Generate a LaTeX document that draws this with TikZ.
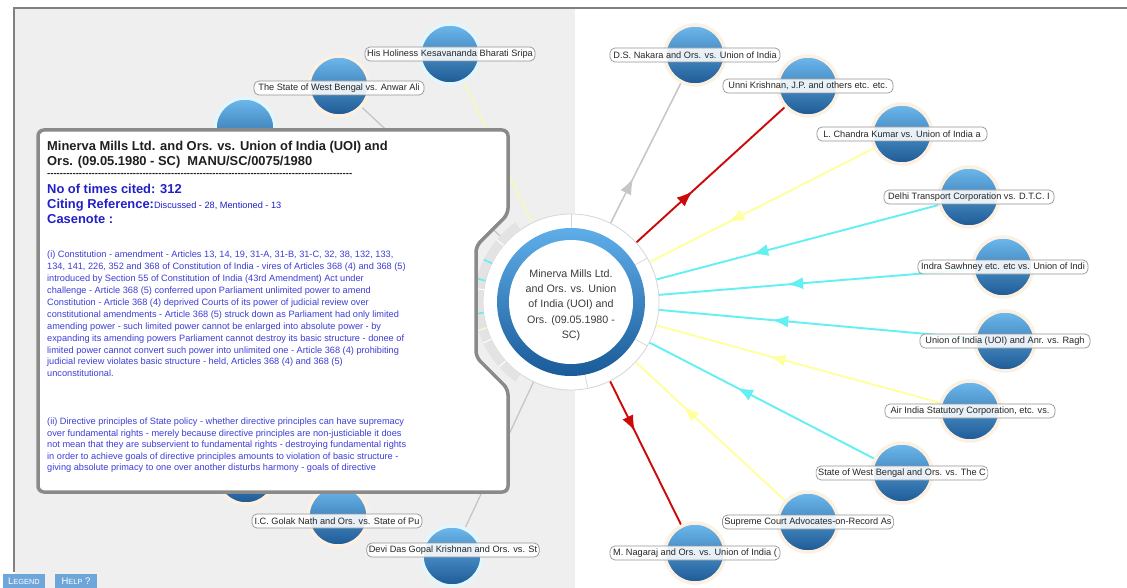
\documentclass[tikz,border=0pt]{standalone}
\usepackage{fontspec}
\setmainfont{Liberation Sans}
\usetikzlibrary{arrows.meta,decorations.markings,shadows,calc}
\pgfdeclarelayer{back}
\pgfdeclarelayer{lines}
\pgfsetlayers{back,lines,main}
\definecolor{bggray}{HTML}{EFEFEF}
\definecolor{framegray}{HTML}{808080}
\definecolor{popframe}{HTML}{8A8A8A}
\definecolor{sphtop}{HTML}{6DB9EE}
\definecolor{sphmid}{HTML}{3E8BCB}
\definecolor{sphbot}{HTML}{1D5994}
\definecolor{halo}{HTML}{FBF0E2}
\definecolor{halob}{HTML}{E2F6FB}
\definecolor{lblb}{HTML}{959595}
\definecolor{egray}{HTML}{C6C6C6}
\definecolor{ered}{HTML}{CC0A0A}
\definecolor{eyel}{HTML}{FFFF9E}
\definecolor{eyelpale}{HTML}{F7F7C4}
\definecolor{ecyan}{HTML}{62F0F2}
\definecolor{txtblue}{HTML}{3D3DD8}
\definecolor{hblue}{HTML}{2020C8}
\definecolor{titleblack}{HTML}{1F1F1F}
\definecolor{ctext}{HTML}{3C3C3C}
\definecolor{ringtop}{HTML}{5EAEEA}
\definecolor{ringbot}{HTML}{1A5A98}
\definecolor{divg}{HTML}{D6D6D6}
\definecolor{bandg}{HTML}{E3E3E3}
\definecolor{btnblue}{HTML}{6FA6DA}
\begin{document}
\begin{tikzpicture}[x=1pt,y=-1pt,
  sph/.style={circle, minimum size=60pt, inner sep=0pt, top color=sphtop, middle color=sphmid, bottom color=sphbot, draw=#1, line width=3.5pt},
  sph/.default=halo,
  lbl/.style={draw=lblb, line width=0.7pt, rounded corners=5pt, fill=white, fill opacity=0.88, text opacity=1, minimum width=170pt, minimum height=14pt, inner sep=2pt, font=\fontsize{9.2}{10}\selectfont, text=black!85},
  conn/.style={line width=1.9pt},
  outarr/.style={postaction={decorate}, decoration={markings, mark=at position #1 with {\arrow{Latex[length=16pt,width=12pt]}}}},
  inarr/.style={postaction={decorate}, decoration={markings, mark=at position #1 with {\arrowreversed{Latex[length=16pt,width=12pt]}}}},
  btn/.style={fill=btnblue, text=white, minimum width=42pt, minimum height=14pt, inner sep=0pt},
  ptext/.style={anchor=north west, inner sep=0pt, align=left}
]
\useasboundingbox (0,0) rectangle (1127,588);
\begin{pgfonlayer}{back}
\fill[white] (0,0) rectangle (1127,588);
\fill[bggray] (15,9) rectangle (575,588);
\draw[framegray, line width=1.6pt] (14,572) -- (14,8) -- (1127,8);
\end{pgfonlayer}

% center node
\node[circle, minimum size=176pt, inner sep=0pt, fill=white, draw=divg, line width=0.8pt] (c) at (571,302) {};

% spheres right
\node[sph] (n1) at (695,55) {};
\node[sph] (n2) at (808,86) {};
\node[sph] (n3) at (902,134) {};
\node[sph] (n4) at (969,197) {};
\node[sph] (n5) at (1003,267) {};
\node[sph] (n6) at (1005,341) {};
\node[sph] (n7) at (970,411) {};
\node[sph] (n8) at (902,473) {};
\node[sph] (n9) at (808,522) {};
\node[sph] (n10) at (695,553) {};
% spheres left
\node[sph=halob] (n11) at (450,54) {};
\node[sph] (n12) at (339,86) {};
\node[sph=halob] (n13) at (245,128) {};
\node[sph] (n14) at (246,474) {};
\node[sph] (n15) at (338,516) {};
\node[sph=halob] (n16) at (452,556) {};

% labels
\node[lbl] (l1) at (n1) {D.S. Nakara and Ors. vs. Union of India};
\node[lbl] (l2) at (n2) {Unni Krishnan, J.P. and others etc. etc.};
\node[lbl] (l3) at (n3) {L. Chandra Kumar vs. Union of India a};
\node[lbl] (l4) at (n4) {Delhi Transport Corporation vs. D.T.C. I};
\node[lbl] (l5) at (n5) {Indra Sawhney etc. etc vs. Union of Indi};
\node[lbl] (l6) at (n6) {Union of India (UOI) and Anr. vs. Ragh};
\node[lbl] (l7) at (n7) {Air India Statutory Corporation, etc. vs.};
\node[lbl] (l8) at (n8) {State of West Bengal and Ors. vs. The C};
\node[lbl] (l9) at (n9) {Supreme Court Advocates-on-Record As};
\node[lbl] (l10) at (n10) {M. Nagaraj and Ors. vs. Union of India (};
\node[lbl] (l11) at (n11) {His Holiness Kesavananda Bharati Sripa};
\node[lbl] (l12) at (339,88) {The State of West Bengal vs. Anwar Ali};
\node[lbl] (l15) at (337,521) {I.C. Golak Nath and Ors. vs. State of Pu};
\node[lbl] (l16) at (453,550) {Devi Das Gopal Krishnan and Ors. vs. St};

% connectors
\begin{pgfonlayer}{lines}
\draw[conn, egray, line width=1.5pt, outarr=0.32] (c) -- (n1);
\draw[conn, ered, outarr=0.38] (c) -- (n2);
\draw[conn, eyel, inarr=0.35] (c) -- (n3);
\draw[conn, ecyan, inarr=0.34] (c) -- (n4);
\draw[conn, ecyan, inarr=0.41] (c) -- (n5);
\draw[conn, ecyan, inarr=0.36] (c) -- (n6);
\draw[conn, eyel, inarr=0.40] (c) -- (n7);
\draw[conn, ecyan, inarr=0.39] (c) -- (n8);
\draw[conn, eyel, inarr=0.32] (c) -- (n9);
\draw[conn, ered, outarr=0.35] (c) -- (n10);
\draw[conn, eyelpale] (c) -- (n11);
\draw[conn, egray, line width=1.3pt] (c) -- (n12);
\draw[conn, egray, line width=1.3pt] (c) -- (n16);
\end{pgfonlayer}

% center ring
\shade[top color=ringtop, bottom color=ringbot] (c.center) circle[radius=74pt];
\fill[white] (c.center) circle[radius=62pt];
\foreach \a in {90,-79,30,-30}{
  \draw[divg, line width=0.7pt] ($(c.center)+(\a:74pt)$) -- ($(c.center)+(\a:88pt)$);
}
% band in the notch
\fill[bandg] ($(c.center)+(125:88pt)$) arc[start angle=125, end angle=235, radius=88pt] -- ($(c.center)+(235:97pt)$) arc[start angle=235, end angle=125, radius=97pt] -- cycle;
\foreach \a in {140,172,205,222}{
  \draw[white, line width=1pt] ($(c.center)+(\a:88pt)$) -- ($(c.center)+(\a:97pt)$);
}
\foreach \a in {154,166,187}{
  \draw[ecyan, line width=1.6pt] ($(c.center)+(\a:88pt)$) -- ($(c.center)+(\a:97pt)$);
}
\draw[eyelpale, line width=1.6pt] ($(c.center)+(197:88pt)$) -- ($(c.center)+(197:97pt)$);

\node[align=center, font=\fontsize{10.7}{15.3}\selectfont, text=ctext] (ct) at (571,305) {Minerva Mills Ltd.\\and Ors. vs. Union\\of India (UOI) and\\Ors. (09.05.1980 -\\SC)};

% popup
\draw[popframe, line width=3.5pt, fill=white, rounded corners=6pt, drop shadow={shadow xshift=1.5pt, shadow yshift=-1.5pt, opacity=0.25}]
  (38,130) -- (508,130) -- (508,214) -- (476,246) -- (476,357) -- (508,389) -- (508,492) -- (38,492) -- cycle;

\node[ptext, font=\bfseries\fontsize{12.9}{14.5}\selectfont, text=titleblack] (ttl) at (47,141) {Minerva Mills Ltd. and Ors. vs. Union of India (UOI) and\\Ors. (09.05.1980 - SC)\ \ MANU/SC/0075/1980};
\node[anchor=west, inner sep=0pt, font=\bfseries\fontsize{9.5}{10}\selectfont, text=titleblack] (dash) at (47,175) {\hbox to 305pt{\xleaders\hbox{-}\hfill}};
\node[ptext, font=\bfseries\fontsize{12.9}{15}\selectfont, text=hblue] (hd) at (47,184) {No of times cited: 312\\Citing Reference:{\mdseries\fontsize{9.2}{10}\selectfont Discussed - 28, Mentioned - 13}\\Casenote :};
\node[ptext, font=\fontsize{9.2}{11.9}\selectfont, text=txtblue] (p1) at (47,251) {(i) Constitution - amendment - Articles 13, 14, 19, 31-A, 31-B, 31-C, 32, 38, 132, 133,\\134, 141, 226, 352 and 368 of Constitution of India - vires of Articles 368 (4) and 368 (5)\\introduced by Section 55 of Constitution of India (43rd Amendment) Act under\\challenge - Article 368 (5) conferred upon Parliament unlimited power to amend\\Constitution - Article 368 (4) deprived Courts of its power of judicial review over\\constitutional amendments - Article 368 (5) struck down as Parliament had only limited\\amending power - such limited power cannot be enlarged into absolute power - by\\expanding its amending powers Parliament cannot destroy its basic structure - donee of\\limited power cannot convert such power into unlimited one - Article 368 (4) prohibiting\\judicial review violates basic structure - held, Articles 368 (4) and 368 (5)\\unconstitutional.};
\node[ptext, font=\fontsize{9.2}{11.4}\selectfont, text=txtblue] (p2) at (47,418) {(ii) Directive principles of State policy - whether directive principles can have supremacy\\over fundamental rights - merely because directive principles are non-justiciable it does\\not mean that they are subservient to fundamental rights - destroying fundamental rights\\in order to achieve goals of directive principles amounts to violation of basic structure -\\giving absolute primacy to one over another disturbs harmony - goals of directive};

% buttons
\node[btn] (leg) at (24,581) {{\fontsize{9.5}{10}\selectfont L}{\fontsize{7.4}{8}\selectfont EGEND}};
\node[btn] (hlp) at (76,581) {{\fontsize{9.5}{10}\selectfont H}{\fontsize{7.4}{8}\selectfont ELP}{\fontsize{9.5}{10}\selectfont\ ?}};
\end{tikzpicture}
\end{document}
